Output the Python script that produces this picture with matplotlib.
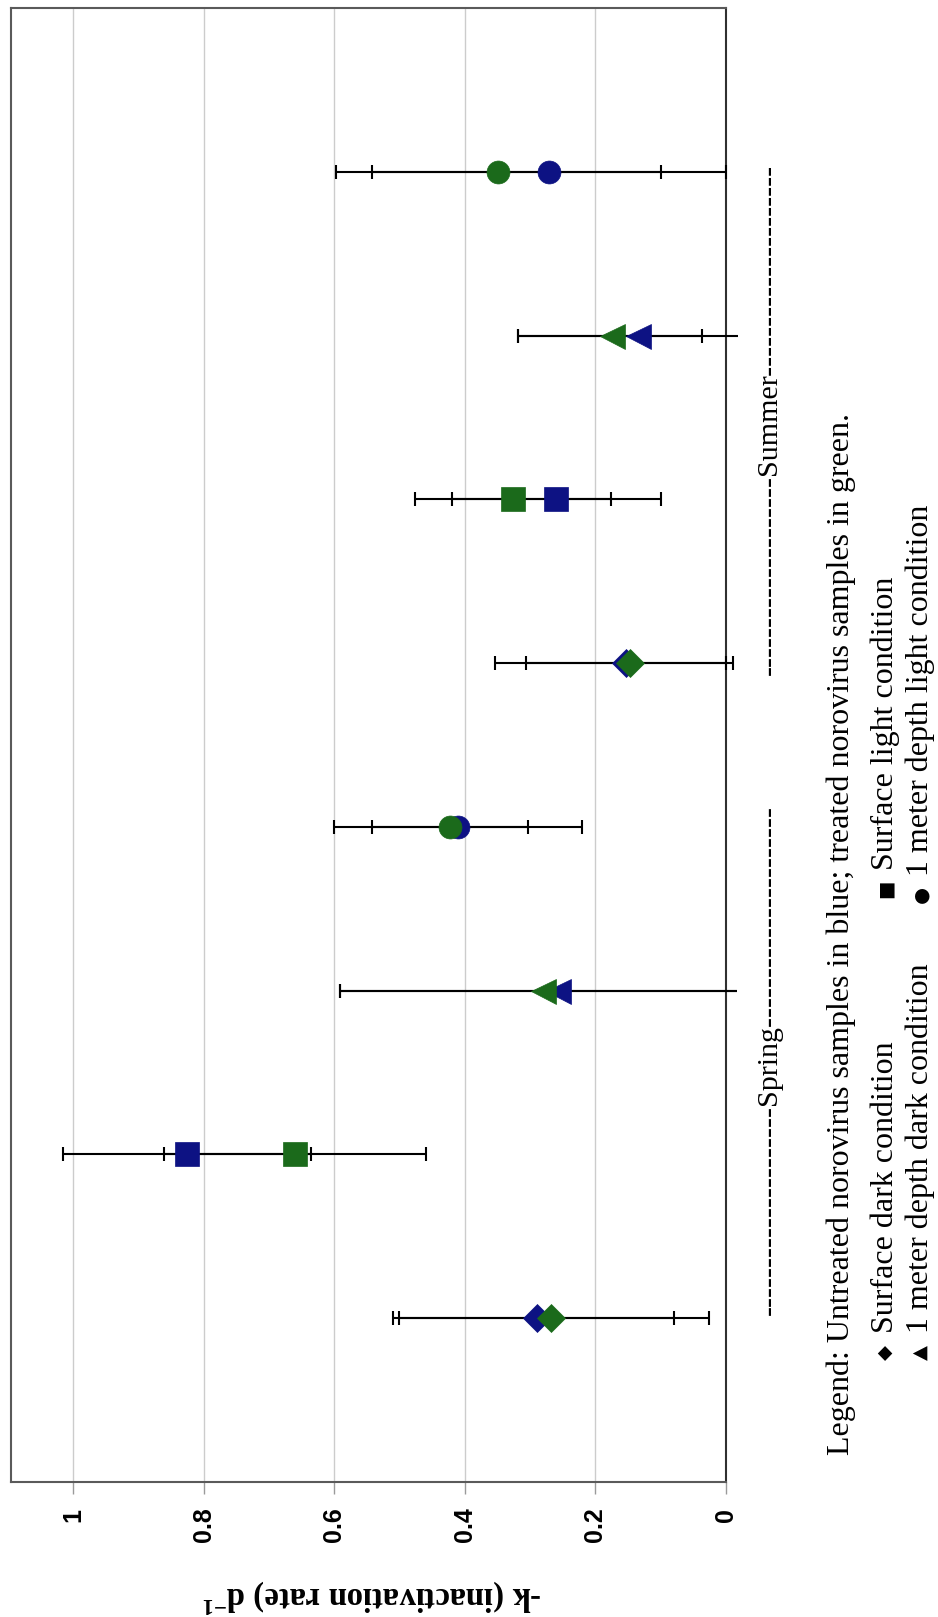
import matplotlib
matplotlib.use("Agg")
import matplotlib.pyplot as plt
from matplotlib.patches import Rectangle

W, H, DPI = 938, 1617, 100

plt.rcParams["mathtext.fontset"] = "custom"
plt.rcParams["mathtext.rm"] = "Liberation Serif:bold"
plt.rcParams["mathtext.default"] = "rm"

# ---- data -------------------------------------------------------------
seasons = ["Spring", "Summer"]
conditions = ["Surface dark condition", "Surface light condition",
              "1 meter depth dark condition", "1 meter depth light condition"]
condition_symbols = ["\u25c6", "\u25a0", "\u25b2", "\u25cf"]

# slot 1-4: spring, 5-8: summer; order = surface dark, surface light,
# 1 m dark, 1 m light
positions = [1, 2, 3, 4, 5, 6, 7, 8]
markers = ["D", "s", "<", "o", "D", "s", "<", "o"]

# untreated norovirus (blue)
untreated_k = [0.290, 0.825, 0.257, 0.410, 0.153, 0.260, 0.135, 0.271]
untreated_err_lo = [0.211, 0.190, 0.2735, 0.190, 0.153, 0.160, 0.153, 0.271]
untreated_err_hi = [0.211, 0.190, 0.334, 0.190, 0.201, 0.160, 0.184, 0.271]

# treated norovirus (green)
treated_k = [0.268, 0.660, 0.280, 0.4225, 0.147, 0.326, 0.175, 0.349]
treated_err_lo = [0.242, 0.200, 0.2965, 0.120, 0.158, 0.150, 0.138, 0.249]
treated_err_hi = [0.242, 0.200, 0.311, 0.120, 0.160, 0.150, 0.144, 0.249]

tick_values = [1.0, 0.8, 0.6, 0.4, 0.2, 0.0]
tick_labels = ["1", "0.8", "0.6", "0.4", "0.2", "0"]

BLUE = "#0d1283"
GREEN = "#1b6a1b"
marker_size = {"D": 14.5, "s": 17, "<": 18, "o": 16.5}


def fx(px):
    return px / W


def fy(py):
    return 1 - py / H


fig = plt.figure(figsize=(W / DPI, H / DPI), dpi=DPI)
fig.patch.set_facecolor("white")

ax = fig.add_axes([fx(11), fy(1482), fx(726) - fx(11), fy(8) - fy(1482)])
ax.set_xlim(1.095, 0)
ax.set_ylim(0, 9)

ax.set_xticks(tick_values)
ax.set_xticklabels(tick_labels, rotation=90, fontfamily="Liberation Sans",
                   fontweight="bold", fontsize=18)
ax.tick_params(axis="x", direction="out", length=8.5, width=1,
               color="#9a9a9a", pad=10)
ax.set_yticks([])
ax.grid(axis="x", color="#cccccc", lw=1.0)
ax.set_axisbelow(True)
for side, sp in ax.spines.items():
    sp.set_color("#5a5a5a")
    sp.set_linewidth(1.5)
ax.spines["right"].set_color("#303030")

# caps falling just past the category axis are cut off
cap_clip = Rectangle((-0.013, -1), 1.3, 12, transform=ax.transData)

for vals, lo, hi in [(untreated_k, untreated_err_lo, untreated_err_hi),
                     (treated_k, treated_err_lo, treated_err_hi)]:
    eb = ax.errorbar(vals, positions, xerr=[lo, hi], fmt="none",
                     ecolor="black", elinewidth=1.5, capsize=4.7,
                     capthick=1.5, zorder=3)
    for coll in eb.lines[2]:
        coll.set_clip_on(False)
    for cap in eb.lines[1]:
        cap.set_clip_on(True)
        cap.set_clip_path(cap_clip)

for vals, color, z in [(untreated_k, BLUE, 4), (treated_k, GREEN, 5)]:
    for v, p, m in zip(vals, positions, markers):
        ax.plot([v], [p], ls="none", marker=m, ms=marker_size[m],
                color=color, mec=color, mew=0.5, zorder=z, clip_on=False)

# ---- axis title (reads upside down in this orientation) ----------------
fig.text(fx(372), fy(1596), "-k (inactivation rate) d$^{-1}$", rotation=180,
         ha="center", va="center", fontfamily="Liberation Serif",
         fontweight="bold", fontsize=23.5)

serif = ["Liberation Serif", "DejaVu Sans"]


def vtext(px, py, s, size, **kw):
    fig.text(fx(px), fy(py), s, rotation=90, rotation_mode="anchor",
             ha="left", va="baseline", fontsize=size, **kw)


# season brackets
vtext(777, 1315, "-" * 21 + seasons[0] + "-" * 22, 21.6, family=serif)
vtext(777, 675, "-" * 20 + seasons[1] + "-" * 21, 21.6, family=serif)

# legend block
vtext(849, 1455, "Legend: Untreated norovirus samples in blue; "
      "treated norovirus samples in green.", 23.0, family=serif)

# (symbol start, text start) along the line for each legend column
legend_starts = [[(1360, 1333), (1360, 1333)],
                 [(898, 870), (903, 876)]]
legend_rows = [893, 928]
for idx, (cond, sym) in enumerate(zip(conditions, condition_symbols)):
    col = idx % 2
    row = idx // 2
    sym_y, text_y = legend_starts[col][row]
    vtext(legend_rows[row] - 2, sym_y, sym, 14, family=["DejaVu Sans"])
    vtext(legend_rows[row], text_y, cond, 23.0, family=serif)

fig.savefig("out.png", dpi=DPI, facecolor="white")
